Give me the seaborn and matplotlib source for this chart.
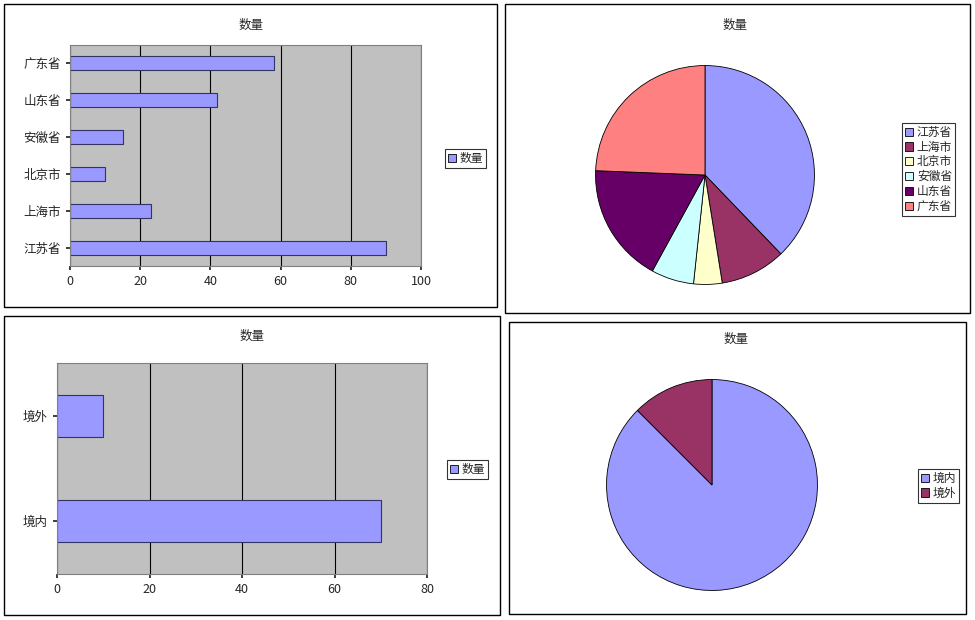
import matplotlib
matplotlib.use("Agg")
import matplotlib.pyplot as plt
import seaborn as sns
import pandas as pd
from matplotlib.patches import Rectangle, Patch

sns.set_theme(style="white")
plt.rcParams['font.family'] = ['Noto Sans CJK SC', 'DejaVu Sans']

provinces = ["江苏省", "上海市", "北京市", "安徽省", "山东省", "广东省"]
prov_counts = [90, 23, 10, 15, 42, 58]
regions = ["境内", "境外"]
region_counts = [70, 10]
pie_colors = ["#9999FF", "#993366", "#FFFFCC", "#CCFFFF", "#660066", "#FF8080"]
bar_color = "#9999FF"
title = "数量"

W, H = 975, 620
fig = plt.figure(figsize=(W/100, H/100), dpi=100)
fig.patch.set_facecolor("white")

def ax_px(x0, y0, x1, y1):
    return fig.add_axes([x0/W, 1 - y1/H, (x1-x0)/W, (y1-y0)/H])

def frame(x0, y0, x1, y1):
    fig.patches.append(Rectangle((x0/W, 1-y1/H), (x1-x0)/W, (y1-y0)/H,
                                 transform=fig.transFigure, fill=False, ec="black", lw=1))

def ftext(x, y, s):
    fig.text(x/W, 1-y/H, s, ha="center", va="center", fontsize=9)

def legend_px(handles, labels, x, y):
    leg = fig.legend(handles, labels, loc="upper left", bbox_to_anchor=(x/W, 1-y/H),
                     fontsize=8.5, frameon=True, fancybox=False, edgecolor="black",
                     handlelength=0.7, handleheight=0.7, handletextpad=0.3,
                     borderpad=0.25, labelspacing=0.15, borderaxespad=0)
    leg.get_frame().set_linewidth(0.8)

for b in [(4, 4, 497, 307), (505, 4, 970, 313), (4, 316, 500, 615), (509, 322, 966, 614)]:
    frame(*b)

def barpanel(box, cats, vals, xmax, step, width, legpos, tpos):
    ax = ax_px(*box)
    df = pd.DataFrame({"cat": cats, "val": vals})
    sns.barplot(data=df, x="val", y="cat", order=cats[::-1], color=bar_color,
                width=width, edgecolor="#333366", linewidth=0.8, saturation=1, ax=ax)
    ax.set_facecolor("#C0C0C0")
    ax.set_xlim(0, xmax)
    ax.set_xticks(range(0, xmax+1, step))
    ax.xaxis.grid(True, color="black", lw=0.8)
    ax.set_axisbelow(True)
    ax.set_xlabel(""); ax.set_ylabel("")
    ax.tick_params(labelsize=9, length=3, direction="out", left=True, bottom=True)
    for s in ax.spines.values():
        s.set_color("#808080"); s.set_linewidth(0.8)
    legend_px([Patch(fc=bar_color, ec="black", lw=0.6)], [title], *legpos)
    ftext(*tpos, title)

barpanel((70, 45, 421, 266), provinces, prov_counts, 100, 20, 0.38, (445, 149), (251, 25))
barpanel((57, 363, 427, 574), regions, region_counts, 80, 20, 0.4, (447, 460), (252, 336))

def piepanel(cx, cy, r, vals, labels, cols, legpos, tpos):
    ax = ax_px(cx-r, cy-r, cx+r, cy+r)
    ax.pie(vals, colors=cols, startangle=90, counterclock=False,
           wedgeprops=dict(edgecolor="black", linewidth=0.6))
    ax.set_xlim(-1.005, 1.005); ax.set_ylim(-1.005, 1.005)
    ax.set_aspect("equal")
    handles = [Patch(fc=c, ec="black", lw=0.6) for c in cols]
    legend_px(handles, labels, *legpos)
    ftext(*tpos, title)

piepanel(705, 175, 110, prov_counts, provinces, pie_colors, (902, 123), (735, 25))
piepanel(712, 485, 106, region_counts, regions, pie_colors[:2], (918, 469), (736, 339))

fig.savefig("out.png", dpi=100, facecolor="white")
